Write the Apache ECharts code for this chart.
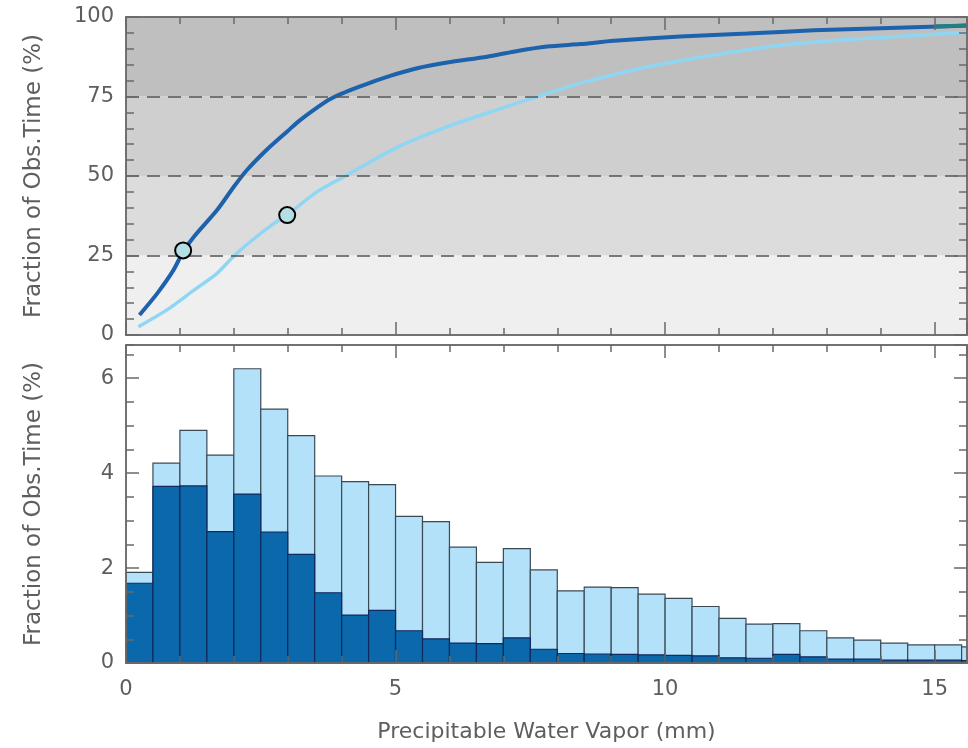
<!DOCTYPE html>
<html>
<head>
<meta charset="utf-8">
<script src="https://cdn.jsdelivr.net/npm/echarts@6/dist/echarts.min.js"></script>
<style>
html,body{margin:0;padding:0;background:#fff;}
#chart{width:968px;height:748px;}
</style>
</head>
<body>
<div id="chart"></div>
<script>
// ---- Data ----
const xMax = 15.6;
const xTickLabels = [0, 5, 10, 15];
const topYTickLabels = [0, 25, 50, 75, 100];
const bottomYTickLabels = [0, 2, 4, 6];
const bandEdges = [0, 25, 50, 75, 100];

// cumulative curves (PWV mm, % of time)
const darkCurveX = [0.25, 0.58, 0.88, 1.06, 1.26, 1.69, 2.0, 2.24, 2.62, 2.99, 3.23, 3.79, 4.41, 4.90, 5.40, 5.96, 6.70, 7.19, 7.81, 8.43, 9.05, 10.28, 11.52, 12.76, 14.0, 15.23, 15.6];
const darkCurveY = [6.3, 13.1, 20.4, 26.2, 30.9, 39.3, 46.6, 51.8, 58.4, 64.0, 67.6, 74.2, 78.6, 81.5, 83.9, 85.7, 87.5, 89.1, 90.7, 91.5, 92.5, 93.9, 94.8, 95.8, 96.5, 97.1, 97.3];
const lightCurveX = [0.23, 0.76, 1.26, 1.69, 2.0, 2.31, 2.74, 3.0, 3.54, 4.10, 5.03, 5.96, 6.88, 7.69, 8.43, 9.66, 10.9, 12.14, 13.38, 14.61, 15.6];
const lightCurveY = [2.6, 7.9, 14.1, 19.4, 24.8, 29.4, 35.0, 37.9, 45.0, 50.3, 59.0, 65.5, 70.8, 75.3, 79.2, 84.3, 88.0, 91.1, 92.9, 94.2, 95.1];
const tealCurveX = [15.0, 15.6];
const tealCurveY = [97.0, 97.3];
const markerX = [1.06, 2.99];
const markerY = [26.6, 37.7];

// histogram (bin start in mm, bin width 0.5 mm)
const binWidth = 0.5;
const binStart = [0, 0.5, 1, 1.5, 2, 2.5, 3, 3.5, 4, 4.5, 5, 5.5, 6, 6.5, 7, 7.5, 8, 8.5, 9, 9.5, 10, 10.5, 11, 11.5, 12, 12.5, 13, 13.5, 14, 14.5, 15, 15.5];
const lightBars = [1.91, 4.21, 4.90, 4.38, 6.20, 5.35, 4.79, 3.94, 3.82, 3.76, 3.09, 2.98, 2.44, 2.12, 2.41, 1.96, 1.52, 1.60, 1.59, 1.45, 1.36, 1.19, 0.94, 0.82, 0.83, 0.68, 0.53, 0.48, 0.42, 0.38, 0.38, 0.34];
const darkBars  = [1.68, 3.72, 3.73, 2.77, 3.56, 2.76, 2.29, 1.48, 1.01, 1.11, 0.68, 0.51, 0.42, 0.41, 0.53, 0.29, 0.20, 0.19, 0.18, 0.17, 0.16, 0.15, 0.11, 0.10, 0.18, 0.13, 0.08, 0.08, 0.06, 0.06, 0.06, 0.05];

// ---- Styling ----
const FONT = 'DejaVu Sans';
const TXT = '#5e5e5e';
const AX = '#6a6a6a';
const bandColors = ['#efefef', '#dcdcdc', '#cfcfcf', '#bfbfbf'];

const zip = (a, b) => a.map((v, i) => [v, b[i]]);

const gridTop = {left: 126, right: 1, top: 17, height: 318};
const gridBot = {left: 126, right: 1, top: 345, height: 318};

function tick(len) {
  return {show: true, inside: true, length: len, lineStyle: {color: AX, width: 1.5}};
}
const axLine = {show: true, onZero: false, lineStyle: {color: AX, width: 1.5}};

function xAx(gridIndex, position, interval, tickLen, labels, extra) {
  return Object.assign({
    type: 'value', gridIndex, position, min: 0, max: xMax, interval, z: 10,
    axisLine: axLine,
    axisTick: tick(tickLen),
    axisLabel: labels ? {show: true, showMaxLabel: false, fontFamily: FONT, fontSize: 21, color: TXT, margin: 16,
      formatter: v => xTickLabels.includes(v) ? String(v) : ''} : {show: false},
    splitLine: {show: false}
  }, extra || {});
}
function yAx(gridIndex, position, max, interval, tickLen, labelList, extra) {
  return Object.assign({
    type: 'value', gridIndex, position, min: 0, max, interval, z: 10,
    axisLine: axLine,
    axisTick: tick(tickLen),
    axisLabel: labelList ? {show: true, showMaxLabel: labelList[labelList.length - 1] === max, fontFamily: FONT, fontSize: 21, color: TXT, margin: 12,
      formatter: v => labelList.includes(v) ? String(v) : ''} : {show: false},
    splitLine: {show: false}
  }, extra || {});
}

const yName = {
  name: 'Fraction of Obs.Time (%)', nameLocation: 'middle', nameGap: 80, nameRotate: 90,
  nameTextStyle: {fontFamily: FONT, fontSize: 23, color: TXT}
};

const xAxes = [
  xAx(0, 'bottom', 5, 13, false),
  xAx(0, 'top', 5, 13, false),
  xAx(1, 'bottom', 1, 7, false),
  xAx(1, 'top', 1, 7, false),
  xAx(2, 'bottom', 5, 13, true, {
    name: 'Precipitable Water Vapor (mm)', nameLocation: 'middle', nameGap: 58,
    nameTextStyle: {fontFamily: FONT, fontSize: 22, color: TXT}
  }),
  xAx(2, 'top', 5, 13, false),
  xAx(3, 'bottom', 1, 7, false),
  xAx(3, 'top', 1, 7, false)
];
const yAxes = [
  yAx(0, 'left', 100, 25, 13, topYTickLabels, yName),
  yAx(0, 'right', 100, 25, 13, null),
  yAx(1, 'left', 100, 5, 8, null),
  yAx(1, 'right', 100, 5, 8, null),
  yAx(2, 'left', 6.7, 2, 13, bottomYTickLabels, yName),
  yAx(2, 'right', 6.7, 2, 13, null),
  yAx(3, 'left', 6.7, 0.5, 8, null),
  yAx(3, 'right', 6.7, 0.5, 8, null)
];

function histSeries(values, fill, stroke, z) {
  return {
    type: 'custom', xAxisIndex: 4, yAxisIndex: 4, z,
    data: binStart.map((s, i) => [s, s + binWidth, values[i]]),
    renderItem(params, api) {
      const p0 = api.coord([api.value(0), 0]);
      const p1 = api.coord([api.value(1), api.value(2)]);
      const rect = echarts.graphic.clipRectByRect(
        {x: p0[0], y: p1[1], width: p1[0] - p0[0], height: p0[1] - p1[1]},
        {x: params.coordSys.x, y: params.coordSys.y, width: params.coordSys.width, height: params.coordSys.height}
      );
      if (!rect) return null;
      return {type: 'rect', shape: rect, style: {fill, stroke, lineWidth: 1.2}};
    }
  };
}

const option = {
  animation: false,
  backgroundColor: '#ffffff',
  grid: [gridTop, gridTop, gridBot, gridBot],
  xAxis: xAxes,
  yAxis: yAxes,
  series: [
    {
      type: 'line', xAxisIndex: 0, yAxisIndex: 0, data: [], z: 1, silent: true,
      markArea: {
        silent: true,
        data: bandColors.map((c, i) => [{yAxis: bandEdges[i], itemStyle: {color: c}}, {yAxis: bandEdges[i + 1]}])
      },
      markLine: {
        silent: true, symbol: 'none', label: {show: false},
        lineStyle: {color: '#555', width: 1.6, type: [13, 8]},
        data: bandEdges.slice(1, -1).map(v => ({yAxis: v}))
      }
    },
    {
      type: 'line', xAxisIndex: 0, yAxisIndex: 0, z: 3, smooth: 0.25, showSymbol: false,
      data: zip(lightCurveX, lightCurveY),
      lineStyle: {color: '#8fd6f4', width: 3.5}
    },
    {
      type: 'line', xAxisIndex: 0, yAxisIndex: 0, z: 4, smooth: 0.25, showSymbol: false,
      data: zip(darkCurveX, darkCurveY),
      lineStyle: {color: '#1c62ad', width: 4}
    },
    {
      type: 'line', xAxisIndex: 0, yAxisIndex: 0, z: 5, showSymbol: false,
      data: zip(tealCurveX, tealCurveY),
      lineStyle: {color: '#1f7f82', width: 4}
    },
    {
      type: 'scatter', xAxisIndex: 0, yAxisIndex: 0, z: 6, symbolSize: 16,
      data: zip(markerX, markerY),
      itemStyle: {color: '#b3dfe4', borderColor: '#000', borderWidth: 2, opacity: 1}
    },
    histSeries(lightBars, '#b3e1fa', '#3a4a55', 2),
    histSeries(darkBars, '#0a68ab', '#10295e', 3)
  ]
};

const chart = echarts.init(document.getElementById('chart'), null, {renderer: 'canvas'});
chart.setOption(option);
</script>
</body>
</html>
